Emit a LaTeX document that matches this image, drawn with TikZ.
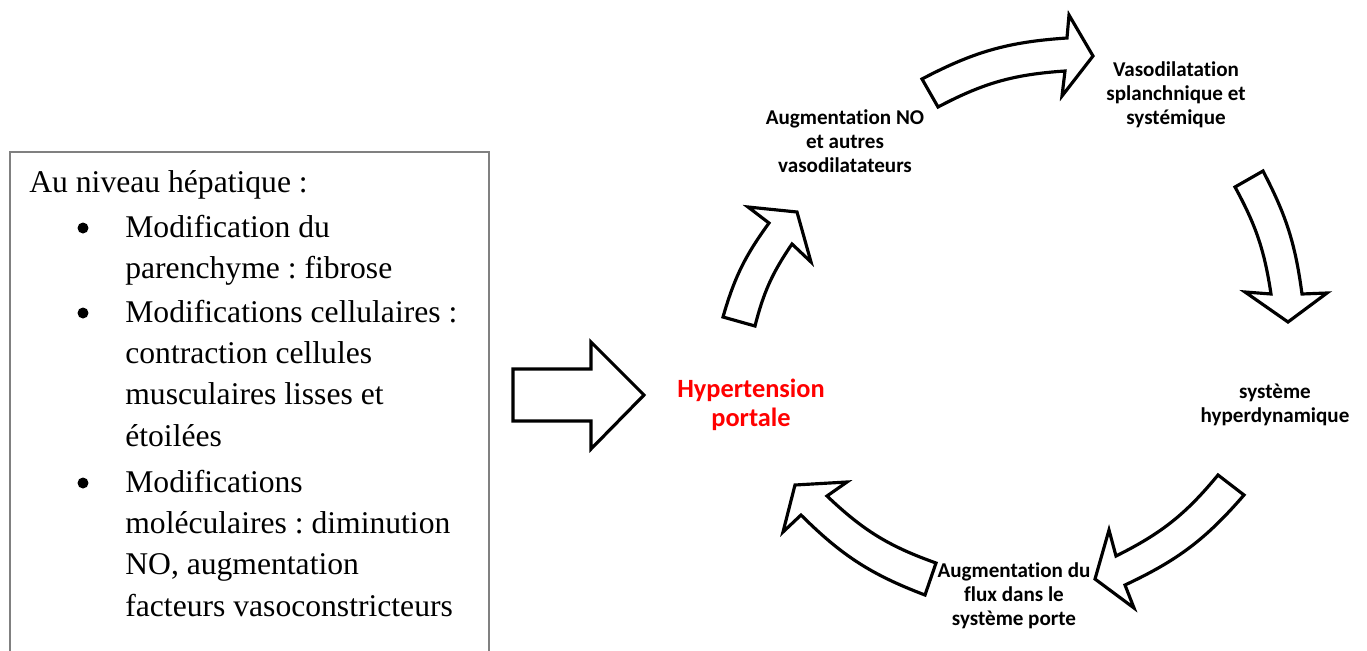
\documentclass[tikz,border=0pt]{standalone}
\usepackage{fontspec}
\setmainfont{Liberation Serif}
\newfontfamily\calibri[Ligatures=NoCommon]{Carlito}
\usepackage{tikz}
\usetikzlibrary{positioning}
\frenchspacing
\definecolor{ink}{HTML}{000000}
\definecolor{hypred}{HTML}{FF0000}
\definecolor{framegray}{HTML}{808080}
\tikzset{
  frm/.style={draw=framegray,line width=1pt},
  txt/.style={inner sep=0pt,anchor=base west,font=\fontsize{18}{23.6}\selectfont},
  itm/.style={txt,text width=7.2cm,align=flush left},
  bul/.style={circle,fill=ink,inner sep=0pt,minimum size=0.22cm},
  lbl/.style={align=center,inner sep=0pt,font=\calibri\bfseries\fontsize{12}{13.7}\selectfont},
  hyp/.style={lbl,text=hypred,font=\calibri\bfseries\fontsize{15}{16.5}\selectfont},
  bigarr/.style={draw=ink,fill=white,line width=1.8pt},
}

\begin{document}
\begin{tikzpicture}[x=0.02cm,y=-0.02cm]
  \useasboundingbox (0,0) rectangle (1367,650);
  % left frame, open at the bottom of the page
  \draw[frm] (10,660) rectangle (489,152);
  \node[txt] (hdr) at (29,192) {Au niveau hépatique :};
  \node[bul] (b1) at (83,228) {};
  \node[itm] (it1) at (125,237) {Modification du\\parenchyme : fibrose};
  \node[bul] (b2) at (83,313) {};
  \node[itm] (it2) at (125,322) {Modifications cellulaires :\\contraction cellules\\musculaires lisses et\\étoilées};
  \node[bul] (b3) at (83,483) {};
  \node[itm] (it3) at (125,492) {Modifications\\moléculaires : diminution\\NO, augmentation\\facteurs vasoconstricteurs};
  % block arrows
  \draw[bigarr] (513,369) -- (591,369) -- (591,342) -- (644,395) -- (591,449) -- (591,421) -- (513,421) -- cycle;
  \draw[bigarr] (723,317) to[bend left=10] (769,223) -- (748,207) -- (797,212) -- (811,262) -- (792,244) to[bend right=10] (755,326) -- cycle;
  \draw[bigarr] (938,107) -- (922,79) to[bend left=12] (1067,38) -- (1069,15) -- (1093,56) -- (1062,96) -- (1065,71) to[bend right=12] (938,107) -- cycle;
  \draw[bigarr] (1235,187) -- (1263,171) to[bend left=10] (1302,294) -- (1327,293) -- (1288,322) -- (1245,292) -- (1271,294) to[bend right=10] (1235,187) -- cycle;
  \draw[bigarr] (1218,475) -- (1244,495) to[bend left=12] (1125,585) -- (1134,608) -- (1095,579) -- (1109,530) -- (1116,556) to[bend right=12] (1218,475) -- cycle;
  \draw[bigarr] (936,563) -- (925,595) to[bend left=12] (801,515) -- (783,532) -- (795,485) -- (847,482) -- (827,496) to[bend right=12] (936,563) -- cycle;
  % cycle labels
  \node[hyp] (htp) at (751,405) {Hypertension\\portale};
  \node[lbl] (no) at (845,141) {Augmentation NO\\et autres\\vasodilatateurs};
  \node[lbl] (vaso) at (1176,95) {Vasodilatation\\splanchnique et\\systémique};
  \node[lbl] (hyper) at (1275,405) {système\\hyperdynamique};
  \node[lbl] (flux) at (1014,596) {Augmentation du\\flux dans le\\système porte};
\end{tikzpicture}
\end{document}
